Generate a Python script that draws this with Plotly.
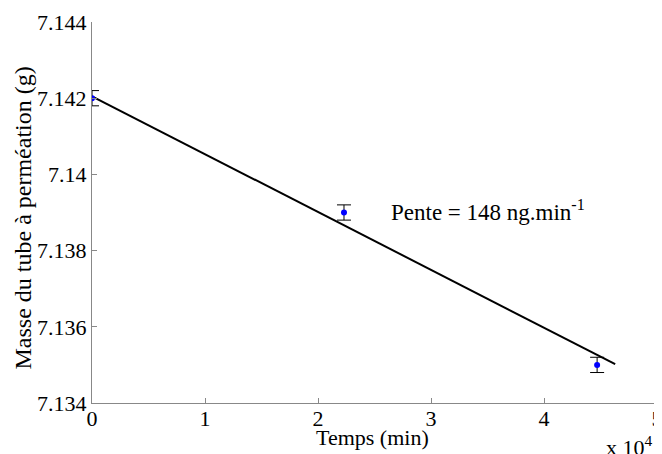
import plotly.graph_objects as go

# mesures
temps = [0, 22300, 44700]
masse = [7.142, 7.139, 7.135]
erreur = [0.0002, 0.0002, 0.0002]

# droite de regression
temps_fit = [0, 46300]
masse_fit = [7.14205, 7.13502]

xticks = [0, 10000, 20000, 30000, 40000, 50000]
xtick_labels = ["0", "1", "2", "3", "4", "5"]
yticks = [7.134, 7.136, 7.138, 7.140, 7.142, 7.144]
ytick_labels = ["7.134", "7.136", "7.138", "7.14", "7.142", "7.144"]

font = "Liberation Serif, Times New Roman, serif"
fsize = 22

fig = go.Figure()
fig.add_trace(go.Scatter(x=temps_fit, y=masse_fit, mode="lines",
                         line=dict(color="black", width=2), showlegend=False))
fig.add_trace(go.Scatter(x=temps, y=masse, mode="markers",
                         marker=dict(color="blue", size=6),
                         error_y=dict(type="data", array=erreur, color="black",
                                      thickness=1, width=7),
                         showlegend=False))

fig.add_annotation(x=26300, y=7.139, text="Pente = 148 ng.min<sup>-1</sup>",
                   showarrow=False, xanchor="left", yanchor="middle", yshift=2,
                   font=dict(family=font, size=23, color="black"))
fig.add_annotation(x=0.996, y=0, xref="paper", yref="paper", yshift=-43,
                   text="x 10<sup>4</sup>", showarrow=False,
                   xanchor="right", yanchor="middle",
                   font=dict(family=font, size=fsize, color="black"))
fig.add_annotation(x=0.497, y=0, xref="paper", yref="paper", yshift=-34,
                   text="Temps (min)", showarrow=False,
                   xanchor="center", yanchor="middle",
                   font=dict(family=font, size=fsize, color="black"))
fig.add_annotation(x=0, y=0.5, xref="paper", yref="paper", xshift=-70, yshift=-6,
                   text="Masse du tube à perméation (g)", textangle=-90,
                   showarrow=False, xanchor="center", yanchor="middle",
                   font=dict(family=font, size=24, color="black"))

fig.update_xaxes(range=[0, 50000], tickvals=xticks, ticktext=xtick_labels,
                 showline=True, linecolor="#888888", linewidth=1,
                 ticks="inside", ticklen=5, tickcolor="#888888",
                 showgrid=False, zeroline=False, automargin=False,
                 ticklabelstandoff=-4, ticklabeloverflow="allow",
                 tickfont=dict(family=font, size=fsize, color="black"))
fig.update_yaxes(range=[7.134, 7.144], tickvals=yticks, ticktext=ytick_labels,
                 showline=True, linecolor="#888888", linewidth=1,
                 ticks="inside", ticklen=5, tickcolor="#888888",
                 showgrid=False, zeroline=False, automargin=False,
                 tickfont=dict(family=font, size=fsize, color="black"))

# la page ajoute 8 px de marge autour de la figure
fig.update_layout(width=654, height=446, plot_bgcolor="white", paper_bgcolor="white",
                  margin=dict(l=84, r=5, t=14, b=51))

fig.write_html("out.html")
